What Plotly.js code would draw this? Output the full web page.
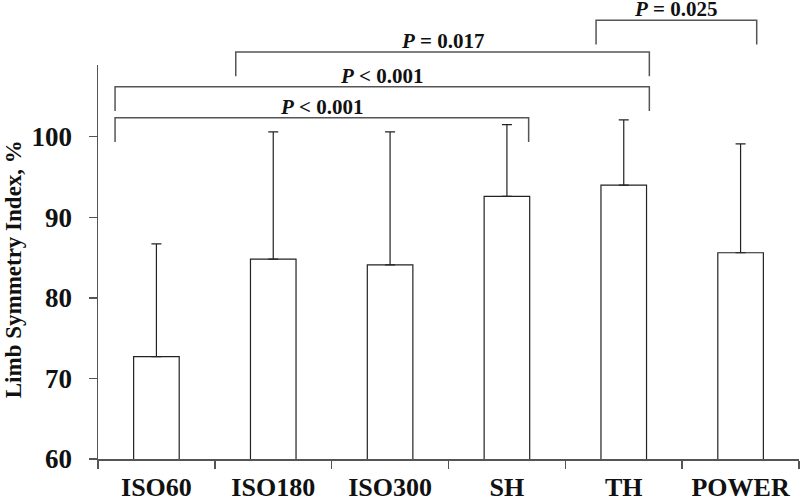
<!DOCTYPE html>
<html>
<head>
<meta charset="utf-8">
<script src="https://cdn.plot.ly/plotly-3.0.1.min.js"></script>
<style>
  body { margin: 0; background: #fff; }
  #chart { width: 800px; height: 499px; }
</style>
</head>
<body>
<div id="chart"></div>
<script>
// test conditions and mean LSI with SD
var tests = ['ISO60', 'ISO180', 'ISO300', 'SH', 'TH', 'POWER'];
var meanLSI = [72.7, 84.8, 84.1, 92.6, 94.0, 85.6];
var sdLSI = [14.0, 15.8, 16.5, 8.9, 8.1, 13.5];

// significance brackets: from/to test, level, label
var bracketFrom = [-0.354, -0.354, 0.679, 3.763];
var bracketTo = [3.186, 4.219, 4.219, 5.138];
var bracketTop = [102.35, 106.2, 110.5, 114.45];
var bracketLabels = ['<i>P</i> < 0.001', '<i>P</i> < 0.001', '<i>P</i> = 0.017', '<i>P</i> = 0.025'];

var yMin = 60, yMax = 108.9;
var legDrop = 3;
var serif = 'Liberation Serif, Times New Roman, serif';
var lineGrey = '#555';

function toPaper(v) {
  return (v - yMin) / (yMax - yMin);
}

var trace = {
  type: 'bar',
  x: tests,
  y: meanLSI,
  width: 0.39,
  marker: { color: '#fff', line: { color: '#222', width: 1.2 } },
  error_y: {
    type: 'data',
    symmetric: false,
    array: sdLSI,
    arrayminus: sdLSI.map(function () { return 0; }),
    color: '#222',
    thickness: 1.2,
    width: 5
  },
  hoverinfo: 'x+y'
};

var shapes = [];
var annotations = [];
for (var i = 0; i < bracketTop.length; i++) {
  var lineY = toPaper(bracketTop[i]);
  var legY = toPaper(bracketTop[i] - legDrop);
  shapes.push({
    type: 'path',
    xref: 'x', yref: 'paper',
    path: 'M ' + bracketFrom[i] + ',' + legY + ' L ' + bracketFrom[i] + ',' + lineY +
          ' L ' + bracketTo[i] + ',' + lineY + ' L ' + bracketTo[i] + ',' + legY,
    line: { color: lineGrey, width: 1.5 }
  });
  annotations.push({
    xref: 'x', yref: 'paper',
    x: (bracketFrom[i] + bracketTo[i]) / 2,
    y: lineY,
    yanchor: 'bottom',
    yshift: -3,
    text: '<b>' + bracketLabels[i] + '</b>',
    showarrow: false,
    font: { family: serif, size: 21, color: '#111' }
  });
}

// y axis title
annotations.push({
  xref: 'paper', yref: 'paper',
  x: 0, y: 0.4816,
  xanchor: 'center', yanchor: 'middle',
  xshift: -85,
  textangle: -90,
  text: '<b>Limb Symmetry Index, %</b>',
  showarrow: false,
  font: { family: serif, size: 23, color: '#111' }
});

var layout = {
  width: 800,
  height: 499,
  margin: { l: 98, r: 1, t: 65, b: 40 },
  paper_bgcolor: '#fff',
  plot_bgcolor: '#fff',
  showlegend: false,
  xaxis: {
    type: 'category',
    range: [-0.5, 5.5],
    showline: true,
    linecolor: lineGrey,
    linewidth: 1.5,
    ticks: 'outside',
    tickson: 'boundaries',
    ticklen: 8,
    tickwidth: 1.5,
    tickcolor: lineGrey,
    ticklabelstandoff: 4,
    showgrid: false,
    zeroline: false,
    tickfont: { family: serif, size: 26, color: '#111', weight: 'bold' }
  },
  yaxis: {
    range: [yMin, yMax],
    showline: true,
    linecolor: lineGrey,
    linewidth: 1.5,
    ticks: 'outside',
    ticklen: 8,
    tickwidth: 1.5,
    tickcolor: lineGrey,
    tickvals: [60, 70, 80, 90, 100],
    ticklabelstandoff: 11,
    showgrid: false,
    zeroline: false,
    tickfont: { family: serif, size: 27, color: '#111', weight: 'bold' }
  },
  shapes: shapes,
  annotations: annotations
};

Plotly.newPlot('chart', [trace], layout, { displayModeBar: false, staticPlot: true });
</script>
</body>
</html>
